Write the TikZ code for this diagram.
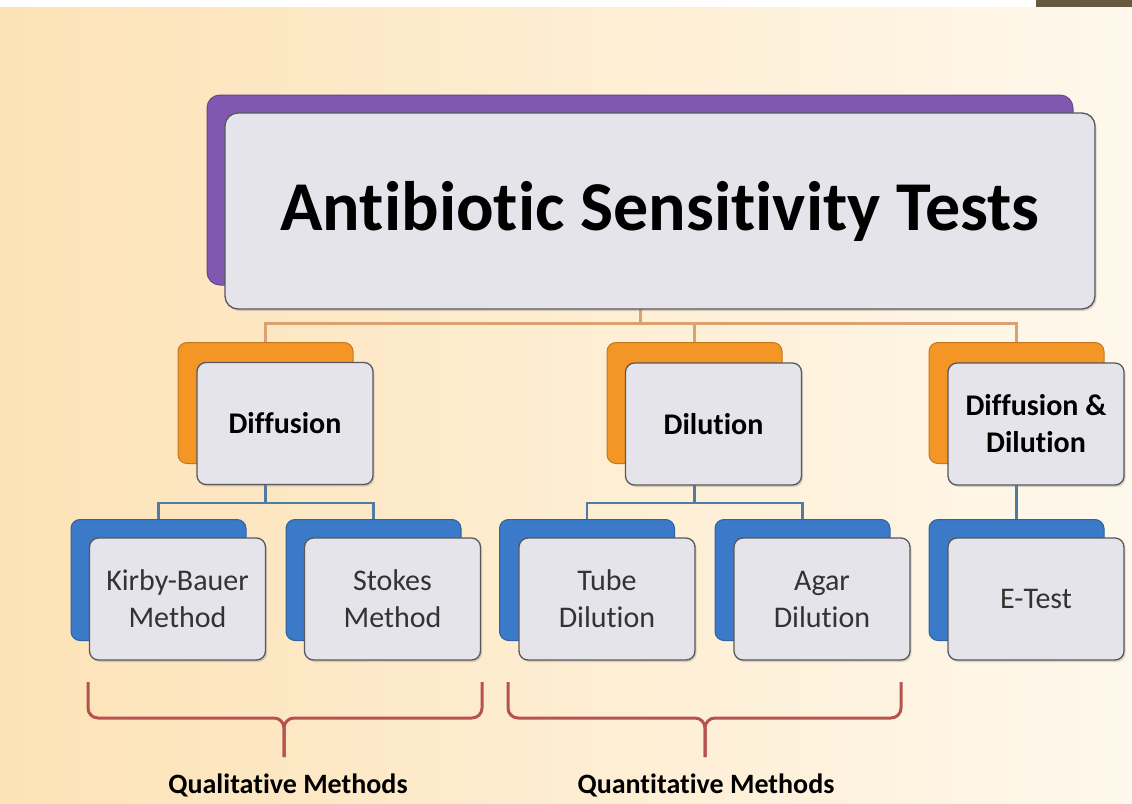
\documentclass[tikz,border=0pt]{standalone}
\usepackage{fontspec}
\setmainfont{Carlito}[Ligatures={NoCommon}]
\usepackage{xcolor}
\usetikzlibrary{shadows,backgrounds}

\definecolor{bgpeach}{RGB}{253,226,182}
\definecolor{bgcream}{RGB}{254,248,236}
\definecolor{topbrown}{RGB}{104,90,64}
\definecolor{titlepurple}{RGB}{128,88,176}
\definecolor{midorange}{RGB}{244,150,38}
\definecolor{leafblue}{RGB}{58,122,200}
\definecolor{cardgrey}{RGB}{229,228,234}
\definecolor{cardedge}{RGB}{88,88,92}
\definecolor{trunktan}{RGB}{218,162,112}
\definecolor{twigblue}{RGB}{80,124,164}
\definecolor{bracketred}{RGB}{183,82,80}

\begin{document}
\begin{tikzpicture}[
    x=1pt, y=-1pt,
    backcard/.style={rounded corners=9pt, draw=#1!80!black, line width=1pt,
                     fill=#1, inner sep=0pt,
                     minimum width=175pt, minimum height=121pt},
    card/.style={rounded corners=9pt, draw=cardedge, line width=1.3pt,
                 fill=cardgrey, align=center, inner sep=0pt,
                 minimum width=176pt, minimum height=122pt,
                 drop shadow={shadow xshift=1.5pt, shadow yshift=-2pt, opacity=.3}},
    midcard/.style={card, font=\fontsize{30}{37}\selectfont\bfseries},
    leafcard/.style={card, font=\fontsize{30}{37}\selectfont, text=black!80},
    trunk/.style={draw=trunktan, line width=3pt},
    twig/.style={draw=twigblue, line width=2.2pt},
    bracket/.style={draw=bracketred, line width=3pt, rounded corners=10pt},
    grouplabel/.style={font=\fontsize{28}{34}\selectfont\bfseries},
]
\useasboundingbox (0,0) rectangle (1132,803);

% --- background ---
\begin{scope}[on background layer]
\fill[left color=bgpeach, right color=bgcream] (0,7) rectangle (1132,803);
\fill[white] (0,0) rectangle (1036,7);
\fill[topbrown] (1036,0) rectangle (1132,7);
\end{scope}

% --- title ---
\node[backcard=titlepurple, rounded corners=13pt,
      minimum width=866pt, minimum height=190pt] (titleB) at (640,190) {};
\node[card, rounded corners=13pt, minimum width=870pt, minimum height=196pt,
      font=\fontsize{70}{84}\selectfont\bfseries] (title) at (660,211)
  {Antibiotic Sensitivity Tests};

% --- second row (orange) ---
\node[backcard=midorange] (diffB) at (265.5,403) {};
\node[midcard] (diff) at (285,423.5) {Diffusion};
\node[backcard=midorange] (dilB) at (694.5,403) {};
\node[midcard] (dil) at (713.5,424) {Dilution};
\node[backcard=midorange] (bothB) at (1016.5,403) {};
\node[midcard] (both) at (1036,424) {Diffusion \&\\Dilution};

% --- third row (blue) ---
\node[backcard=leafblue] (kirbyB) at (158.5,580) {};
\node[leafcard] (kirby) at (177.5,599) {Kirby-Bauer\\Method};
\node[backcard=leafblue] (stokesB) at (373.5,580) {};
\node[leafcard] (stokes) at (392.5,599) {Stokes\\Method};
\node[backcard=leafblue] (tubeB) at (587,580) {};
\node[leafcard] (tube) at (607,599) {Tube\\Dilution};
\node[backcard=leafblue] (agarB) at (802.5,580) {};
\node[leafcard] (agar) at (822,599) {Agar\\Dilution};
\node[backcard=leafblue] (etestB) at (1016.5,580) {};
\node[leafcard] (etest) at (1036,599) {E-Test};

% --- connectors ---
\begin{scope}[on background layer]
\draw[trunk] (titleB.south) -- ++(0,38) -| (diffB.north);
\draw[trunk] (titleB.south) -- ++(0,38) -| (dilB.north);
\draw[trunk] (titleB.south) -- ++(0,38) -| (bothB.north);
\draw[twig] (diffB.south) -- ++(0,39) -| (kirbyB.north);
\draw[twig] (diffB.south) -- ++(0,39) -| (stokesB.north);
\draw[twig] (dilB.south) -- ++(0,39) -| (tubeB.north);
\draw[twig] (dilB.south) -- ++(0,39) -| (agarB.north);
\draw[twig] (bothB.south) -- (etestB.north);
\end{scope}

% --- brackets ---
\draw[bracket] (88,682) -- (88,718) -- (284,718) -- (284,757);
\draw[bracket] (482,682) -- (482,718) -- (284,718) -- (284,757);
\draw[bracket] (508,682) -- (508,718) -- (705,718) -- (705,757);
\draw[bracket] (901,682) -- (901,718) -- (705,718) -- (705,757);

\node[grouplabel] (qual) at (288,785) {Qualitative Methods};
\node[grouplabel] (quant) at (706,785) {Quantitative Methods};
\end{tikzpicture}
\end{document}
